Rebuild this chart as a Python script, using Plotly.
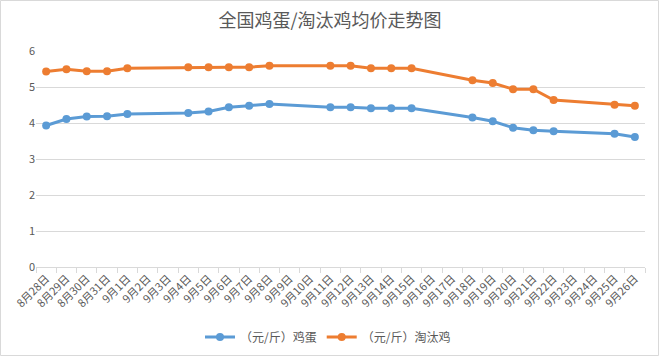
import plotly.graph_objects as go

dates = ["8月28日", "8月29日", "8月30日", "8月31日", "9月1日", "9月2日", "9月3日", "9月4日", "9月5日",
         "9月6日", "9月7日", "9月8日", "9月9日", "9月10日", "9月11日", "9月12日", "9月13日", "9月14日",
         "9月15日", "9月16日", "9月17日", "9月18日", "9月19日", "9月20日", "9月21日", "9月22日",
         "9月23日", "9月24日", "9月25日", "9月26日"]

egg = [3.93, 4.11, 4.18, 4.19, 4.25, None, None, 4.28, 4.32, 4.44, 4.48, 4.53, None, None,
       4.44, 4.44, 4.41, 4.41, 4.41, None, None, 4.15, 4.05, 3.87, 3.80, 3.77, None, None, 3.70, 3.61]

hen = [5.43, 5.49, 5.44, 5.44, 5.52, None, None, 5.55, 5.55, 5.55, 5.55, 5.59, None, None,
       5.59, 5.59, 5.52, 5.52, 5.52, None, None, 5.19, 5.11, 4.94, 4.94, 4.64, None, None, 4.51, 4.48]

series_names = ["（元/斤）鸡蛋", "（元/斤）淘汰鸡"]
colors = ["#5b9bd5", "#ed7d31"]

W, H = 660, 357
ml, mr, mt, mb = 36, 15, 51, 90

fig = go.Figure()
for name, vals, c in zip(series_names, [egg, hen], colors):
    fig.add_trace(go.Scatter(
        x=dates, y=vals, name=name, mode="lines+markers", connectgaps=True,
        line=dict(color=c, width=3), marker=dict(color=c, size=8),
    ))

pw = W - ml - mr
ph = H - mt - mb
fig.add_shape(type="rect", xref="paper", yref="paper",
              x0=-(ml - 0.5) / pw, x1=1 + (mr - 1.5) / pw,
              y0=-(mb - 1.5) / ph, y1=1 + (mt - 0.5) / ph,
              line=dict(color="#d9d9d9", width=1), fillcolor="rgba(0,0,0,0)", layer="below")

font_family = "Noto Sans CJK SC, Noto Sans, sans-serif"
fig.update_layout(
    width=W, height=H,
    margin=dict(l=ml, r=mr, t=mt, b=mb, autoexpand=False),
    paper_bgcolor="white", plot_bgcolor="white",
    font=dict(family=font_family, color="#595959", size=11),
    title=dict(text="全国鸡蛋/淘汰鸡均价走势图", x=0.5, xanchor="center",
               y=1 - 21 / H, yanchor="middle", yref="container",
               font=dict(size=18, color="#595959", family=font_family)),
    showlegend=True,
    legend=dict(orientation="h", x=(328 - ml) / pw, xanchor="center", y=-(337 - 267) / ph,
                yanchor="middle", itemwidth=30,
                font=dict(size=12, color="#595959"), tracegroupgap=0),
    xaxis=dict(type="category", range=[-0.5, len(dates) - 0.5], tickangle=-45,
               tickson="boundaries", ticks="outside",
               ticklen=5, tickcolor="#d9d9d9", showline=True, linecolor="#d9d9d9", linewidth=1,
               showgrid=False, automargin=False, tickfont=dict(size=11, color="#595959"),
               fixedrange=True),
    yaxis=dict(range=[0, 6], dtick=1, showgrid=True, gridcolor="#d9d9d9", gridwidth=1,
               zeroline=False, showline=False, ticks="", automargin=False,
               tickfont=dict(size=11, color="#595959"), fixedrange=True),
)

fig.write_html("out.html", config={"displayModeBar": False},
               post_script="document.body.style.margin='0';document.body.style.padding='0';")
